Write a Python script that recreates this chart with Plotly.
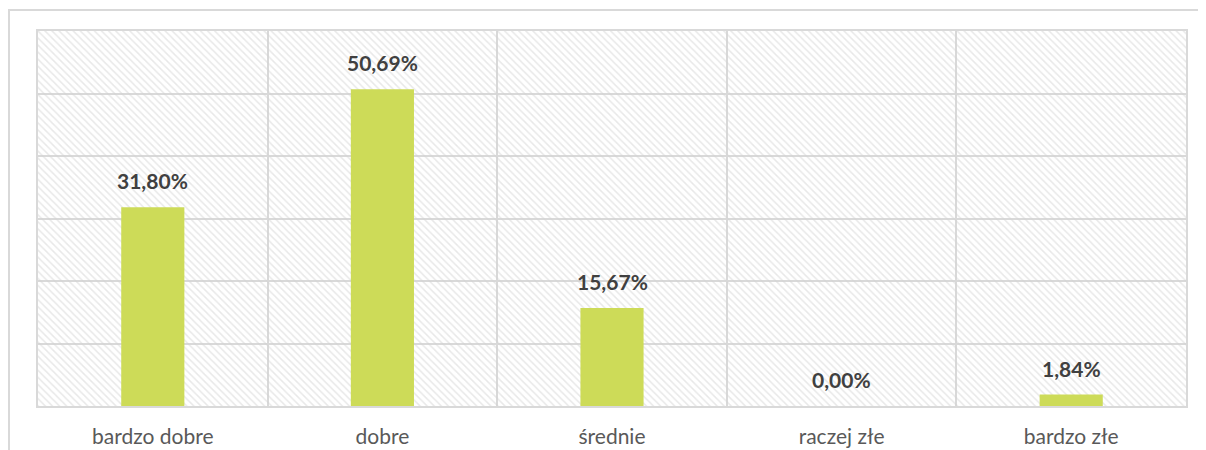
import plotly.graph_objects as go

categories = ["bardzo dobre", "dobre", "średnie", "raczej złe", "bardzo złe"]
values = [31.80, 50.69, 15.67, 0.00, 1.84]
labels = ["31,80%", "50,69%", "15,67%", "0,00%", "1,84%"]
y_max = 60

x = list(range(len(categories)))

fig = go.Figure()

# hatched plot background (transparent fill so gridlines show through)
fig.add_trace(go.Bar(
    x=x, y=[y_max] * len(x), width=1,
    marker=dict(color="rgba(0,0,0,0)", line=dict(width=0),
                pattern=dict(shape="\\", fgcolor="#d2d2d2", bgcolor="rgba(0,0,0,0)",
                             size=5, solidity=0.3)),
    hoverinfo="skip", showlegend=False,
))

fig.add_trace(go.Bar(
    x=x, y=values, width=0.275,
    marker=dict(color="#CDDB58", line=dict(width=0)),
    showlegend=False,
))

for i, (v, t) in enumerate(zip(values, labels)):
    fig.add_annotation(x=i, y=v, text=f"<b>{t}</b>", showarrow=False,
                       yanchor="bottom", yshift=12,
                       font=dict(family="Lato, Open Sans, sans-serif", size=21, color="#404040"))

W, H = 1198, 442
ml, mr, mt, mb = 30, 20, 23, 44
pw, ph = W - ml - mr, H - mt - mb

fig.update_layout(
    width=W, height=H,
    margin=dict(l=ml, r=mr, t=mt, b=mb),
    paper_bgcolor="white", plot_bgcolor="white",
    barmode="overlay",
    font=dict(family="Lato, Open Sans, sans-serif", size=20, color="#595959"),
    xaxis=dict(
        range=[-0.5, len(x) - 0.5], tickmode="array", tickvals=x, ticktext=categories,
        showgrid=False, zeroline=False, ticks="", ticklabelstandoff=11, automargin=False,
        showline=True, mirror=True, linecolor="#d9d9d9", linewidth=2,
        tickfont=dict(size=21, color="#595959"),
        minor=dict(tickmode="array", tickvals=[i + 0.5 for i in x[:-1]],
                   showgrid=True, gridcolor="#d9d9d9", gridwidth=1.5, ticks=""),
    ),
    yaxis=dict(
        range=[0, y_max], dtick=10, showticklabels=False, zeroline=False, automargin=False,
        showgrid=True, gridcolor="#d9d9d9", gridwidth=1.5,
        showline=True, mirror=True, linecolor="#d9d9d9", linewidth=2,
    ),
    shapes=[dict(type="rect", xref="paper", yref="paper",
                 x0=-(ml - 1) / pw, x1=1 + (mr + 20) / pw,
                 y0=-(mb + 40) / ph, y1=1 + (mt - 2) / ph,
                 line=dict(color="#d9d9d9", width=2), fillcolor="rgba(0,0,0,0)",
                 layer="below")],
)

fig.write_html("out.html")
